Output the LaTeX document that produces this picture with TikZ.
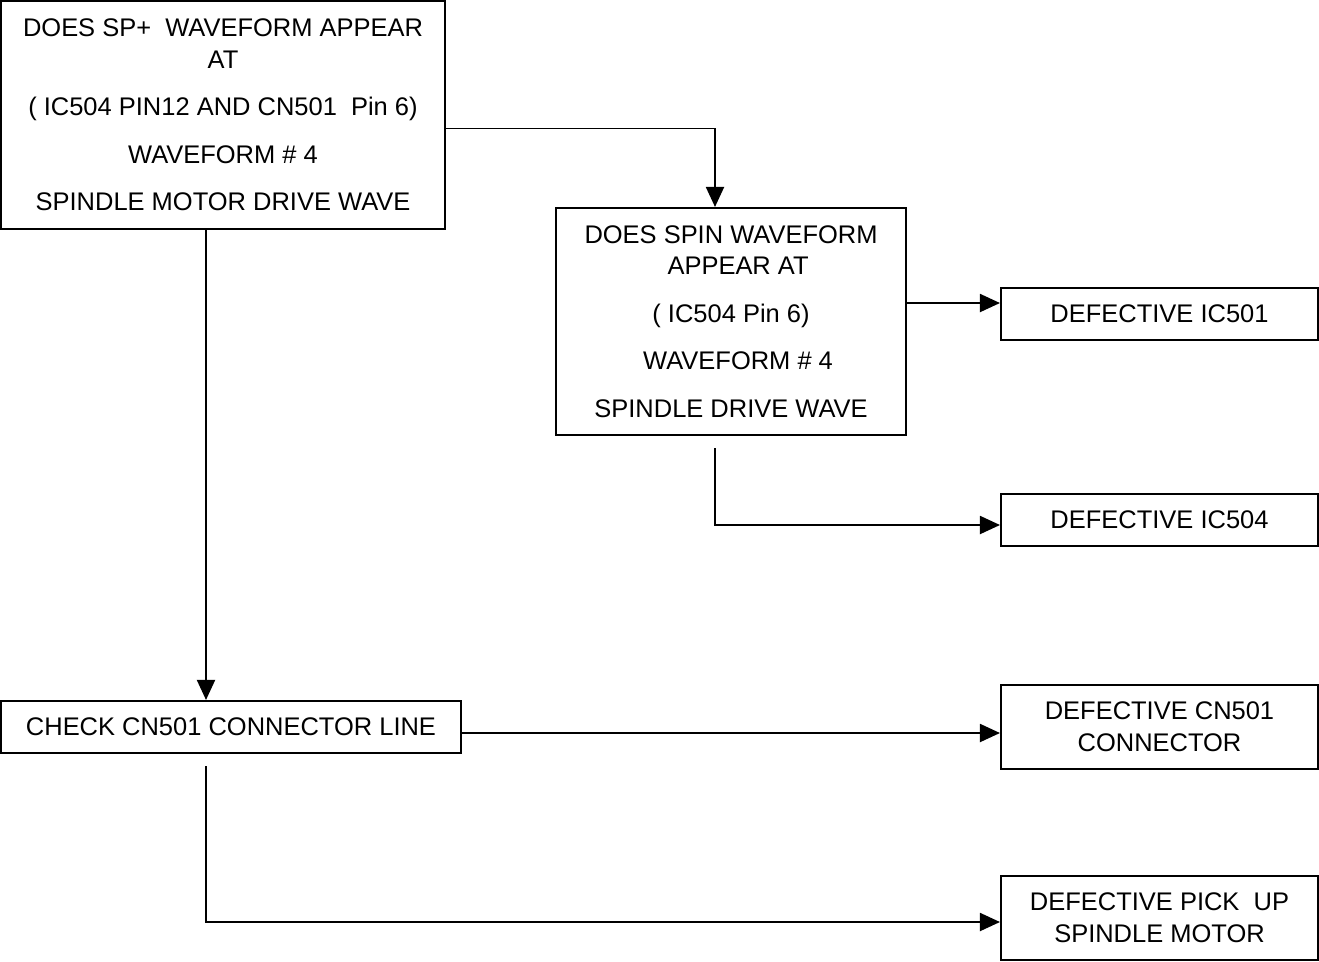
\documentclass[tikz,border=0pt]{standalone}
\usepackage{fontspec}
\setmainfont{Liberation Sans}
\usepackage{tikz}
\usetikzlibrary{arrows.meta,positioning}
\definecolor{inkblack}{RGB}{0,0,0}

\begin{document}
\begin{tikzpicture}[x=0.02cm, y=-0.02cm,
  box/.style={draw=inkblack, line width=1.2pt, align=center, inner sep=0pt,
    font=\fontsize{14.5}{18}\selectfont},
  arr/.style={draw=inkblack, line width=1.1pt, -{Triangle[length=0.4cm, width=0.36cm]}}]

\useasboundingbox (0,0) rectangle (1319,961);

% Question boxes
\node[box, minimum width=8.88cm, minimum height=4.56cm] (spplus) at (223,115)
  {DOES SP+\ \ WAVEFORM APPEAR\\ AT\\[9pt]
   ( IC504 PIN12 AND CN501\ \ Pin 6)\\[9pt]
   WAVEFORM \# 4\\[9pt]
   SPINDLE MOTOR\ DRIVE WAVE};
\node[box, minimum width=7cm, minimum height=4.54cm] (spin) at (731,321.5)
  {DOES SPIN WAVEFORM\\ \ \ APPEAR AT\\[9pt]
   ( IC504 Pin 6)\\[9pt]
   \ \ WAVEFORM \# 4\\[9pt]
   SPINDLE DRIVE WAVE};
\node[box, minimum width=9.2cm, minimum height=1.04cm] (check) at (231,727)
  {CHECK CN501 CONNECTOR LINE};

% Result boxes
\node[box, minimum width=6.34cm, minimum height=1.04cm] (ic501) at (1159.5,314)
  {DEFECTIVE IC501};
\node[box, minimum width=6.34cm, minimum height=1.04cm] (ic504) at (1159.5,520)
  {DEFECTIVE IC504};
\node[box, minimum width=6.34cm, minimum height=1.68cm] (cn501) at (1159.5,727)
  {DEFECTIVE CN501\\ CONNECTOR};
\node[box, minimum width=6.34cm, minimum height=1.68cm] (pickup) at (1159.5,918)
  {DEFECTIVE PICK\ \ UP\\ SPINDLE MOTOR};

% Connectors
\coordinate (spout) at ([yshift=-0.27cm]spplus.east);
\coordinate (spinin) at ([xshift=-0.32cm]spin.north);
\draw[arr] (spout) -| (spinin);

\coordinate (spinout) at ([yshift=0.37cm]spin.east);
\draw[arr] (spinout) -- (spinout -| ic501.west);

\coordinate (spinlow) at ([xshift=-0.32cm, yshift=-0.24cm]spin.south);
\draw[arr] (spinlow) |- ([yshift=-0.1cm]ic504.west);

\coordinate (spdown) at ([xshift=-0.34cm]spplus.south);
\draw[arr] (spdown) -- (spdown |- check.north);

\coordinate (checkout) at ([yshift=-0.12cm]check.east);
\draw[arr] (checkout) -- (checkout -| cn501.west);

\coordinate (checklow) at ([xshift=-0.5cm, yshift=-0.24cm]check.south);
\draw[arr] (checklow) |- ([yshift=-0.08cm]pickup.west);

\end{tikzpicture}
\end{document}
